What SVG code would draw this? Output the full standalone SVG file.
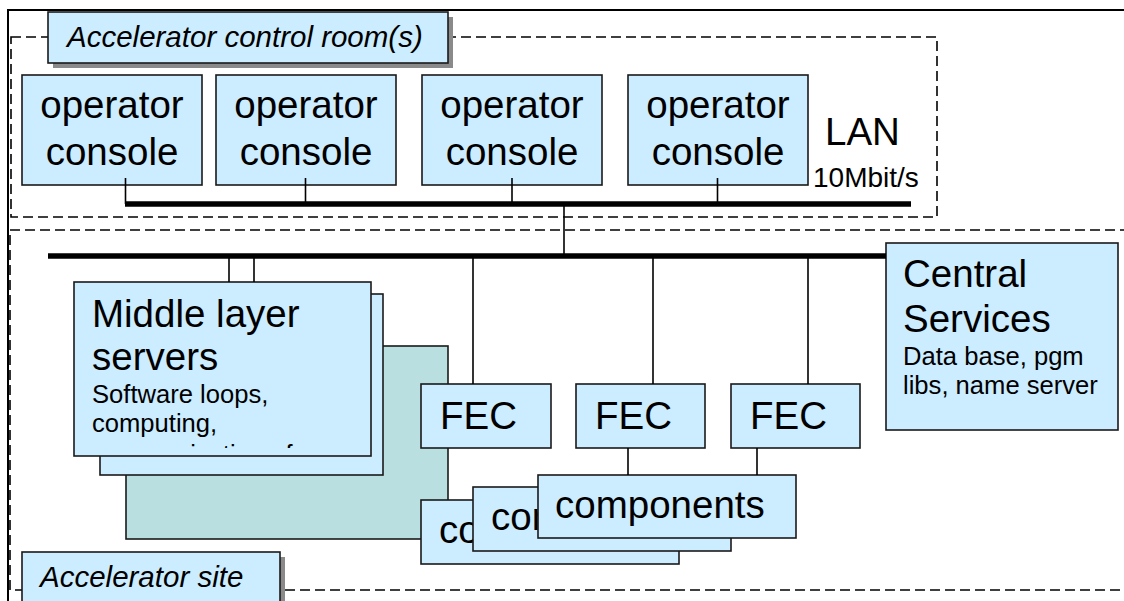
<svg xmlns="http://www.w3.org/2000/svg" width="1124" height="601" viewBox="0 0 1124 601">
  <defs>
    <style>
      .frame { fill: none; stroke: #000; stroke-width: 2; }
      .zone { fill: none; stroke: #000; stroke-width: 1.6; stroke-dasharray: 10 5; }
      .box { fill: #ccecff; stroke: #1a1a1a; stroke-width: 1.6; }
      .teal { fill: #badfe1; stroke: #1a1a1a; stroke-width: 1.6; }
      .shadow { fill: #8a8a8a; }
      .bus { stroke: #000; stroke-width: 5.5; fill: none; }
      .link { stroke: #000; stroke-width: 1.6; fill: none; }
      text { font-family: "Liberation Sans", Arial, sans-serif; fill: #000; }
      .big { font-size: 38.5px; }
      .small { font-size: 25.6px; }
      .title { font-size: 29.5px; font-style: italic; }
      .mid { text-anchor: middle; }
    </style>
    <!-- text area of the middle layer box: the last line is cut off by it -->
    <clipPath id="mls-clip">
      <rect x="75" y="283" width="295" height="165"/>
    </clipPath>
  </defs>

  <!-- outer frame (continues past the right and bottom edges) -->
  <rect class="frame" x="8" y="10" width="1140" height="620"/>

  <!-- zones -->
  <g id="zone-control-room">
    <rect class="zone" x="11" y="37" width="926" height="180"/>
  </g>
  <g id="zone-site">
    <rect class="zone" x="10" y="230" width="1140" height="360"/>
  </g>

  <g id="title-control-room">
    <rect class="shadow" x="53" y="17" width="400" height="51"/>
    <rect class="box" x="48" y="12" width="400" height="51"/>
    <text class="title" x="67" y="47">Accelerator control room(s)</text>
  </g>

  <!-- operator consoles -->
  <g id="console-1">
    <rect class="box" x="22" y="75" width="180" height="110"/>
    <text class="big mid" x="112" y="118">operator</text>
    <text class="big mid" x="112" y="165">console</text>
  </g>
  <g id="console-2">
    <rect class="box" x="216" y="75" width="180" height="110"/>
    <text class="big mid" x="306" y="118">operator</text>
    <text class="big mid" x="306" y="165">console</text>
  </g>
  <g id="console-3">
    <rect class="box" x="422" y="75" width="180" height="110"/>
    <text class="big mid" x="512" y="118">operator</text>
    <text class="big mid" x="512" y="165">console</text>
  </g>
  <g id="console-4">
    <rect class="box" x="628" y="75" width="180" height="110"/>
    <text class="big mid" x="718" y="118">operator</text>
    <text class="big mid" x="718" y="165">console</text>
  </g>

  <g id="lan-label">
    <text class="big" x="825" y="145">LAN</text>
    <text x="813" y="187" style="font-size:28px">10Mbit/s</text>
  </g>

  <!-- middle layer servers (stacked) -->
  <g id="middle-layer">
    <rect class="teal" x="126" y="346" width="322" height="193"/>
    <rect class="box" x="100" y="294" width="283" height="181"/>
    <rect class="box" x="74" y="282" width="297" height="174"/>
    <text class="big" x="92" y="327">Middle layer</text>
    <text class="big" x="92" y="370">servers</text>
    <g clip-path="url(#mls-clip)">
      <text class="small" x="92" y="403">Software loops,</text>
      <text class="small" x="92" y="432">computing,</text>
      <text class="small" x="92" y="463">communication of</text>
    </g>
  </g>

  <!-- front end computers -->
  <g id="fec-1">
    <rect class="box" x="421" y="384" width="130" height="64"/>
    <text class="big" x="440" y="429">FEC</text>
  </g>
  <g id="fec-2">
    <rect class="box" x="576" y="384" width="129" height="64"/>
    <text class="big" x="595" y="429">FEC</text>
  </g>
  <g id="fec-3">
    <rect class="box" x="731" y="384" width="129" height="64"/>
    <text class="big" x="750" y="429">FEC</text>
  </g>

  <!-- components (stacked) -->
  <g id="components-1">
    <rect class="box" x="421" y="500" width="258" height="64"/>
    <text class="big" x="439" y="543">components</text>
  </g>
  <g id="components-2">
    <rect class="box" x="473" y="487" width="258" height="64"/>
    <text class="big" x="491" y="530">components</text>
  </g>
  <g id="components-3">
    <rect class="box" x="538" y="475" width="258" height="63"/>
    <text class="big" x="555" y="518">components</text>
  </g>

  <g id="central-services">
    <rect class="box" x="886" y="243" width="232" height="187"/>
    <text class="big" x="903" y="287">Central</text>
    <text class="big" x="903" y="332">Services</text>
    <text class="small" x="903" y="365">Data base, pgm</text>
    <text class="small" x="903" y="394">libs, name server</text>
  </g>

  <g id="title-site">
    <rect class="shadow" x="27" y="557" width="258" height="60"/>
    <rect class="box" x="22" y="552" width="258" height="60"/>
    <text class="title" x="40" y="587">Accelerator site</text>
  </g>

  <!-- connectors -->
  <g id="connectors">
    <line class="bus" x1="125" y1="204" x2="911" y2="204"/>
    <line class="bus" x1="48" y1="256" x2="886" y2="256"/>
    <line class="link" x1="125.5" y1="178" x2="125.5" y2="204"/>
    <line class="link" x1="305.5" y1="178" x2="305.5" y2="204"/>
    <line class="link" x1="512" y1="178" x2="512" y2="204"/>
    <line class="link" x1="717.5" y1="178" x2="717.5" y2="204"/>
    <line class="link" x1="564" y1="204" x2="564" y2="256"/>
    <line class="link" x1="229" y1="256" x2="229" y2="282"/>
    <line class="link" x1="254" y1="256" x2="254" y2="282"/>
    <line class="link" x1="473" y1="256" x2="473" y2="384"/>
    <line class="link" x1="653" y1="256" x2="653" y2="384"/>
    <line class="link" x1="808" y1="256" x2="808" y2="384"/>
    <line class="link" x1="628" y1="448" x2="628" y2="475"/>
    <line class="link" x1="757" y1="448" x2="757" y2="475"/>
  </g>
</svg>
